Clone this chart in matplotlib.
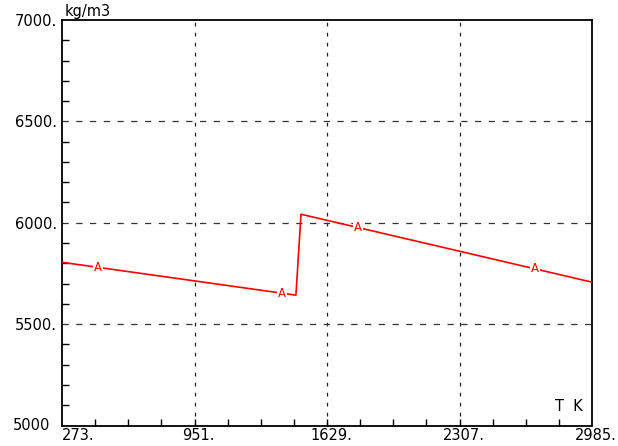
import matplotlib
matplotlib.use("Agg")
import matplotlib.pyplot as plt
import matplotlib.transforms as mtransforms
import numpy as np

# ---- data ----
temperature = [273, 1470, 1496, 2985]          # T (K)
density = [5805, 5643, 6042, 5707]             # kg/m3
marker_T = [457, 1399, 1788, 2693]
marker_rho = [5780, 5653, 5976, 5773]
marker_text = "A"

x_ticks = [273, 951, 1629, 2307, 2985]
x_tick_labels = ["273.", "951.", "1629.", "2307.", "2985."]
y_ticks = [5000, 5500, 6000, 6500, 7000]
y_tick_labels = ["5000", "5500.", "6000.", "6500.", "7000."]
x_unit = "T  K"
y_unit = "kg/m3"

plt.rcParams['font.family'] = ['DejaVu Sans']
fs = 10.5

fig = plt.figure(figsize=(6.18, 4.46), dpi=100)
ax = fig.add_axes([62/618, 20.5/446, 530/618, 405.5/446])
ax.set_xlim(x_ticks[0], x_ticks[-1])
ax.set_ylim(y_ticks[0], y_ticks[-1])

# grid
for xv in x_ticks[1:-1]:
    ax.axvline(xv, color='#222222', lw=0.9, linestyle=(0, (3, 5)), zorder=1)
for yv in y_ticks[1:-1]:
    ax.axhline(yv, color='#333333', lw=0.9, linestyle=(0, (5, 6)), zorder=1)

# data line
ax.plot(temperature, density, color='#ff0000', lw=1.2, zorder=3)
for t, r in zip(marker_T, marker_rho):
    ax.text(t, r, marker_text, color='#ff0000', fontsize=8.5, ha='center', va='center',
            zorder=4, bbox=dict(boxstyle='square,pad=0.05', fc='white', ec='none'))

# ticks
ax.set_xticks([])
ax.set_yticks([])
xstep = (x_ticks[1] - x_ticks[0]) / 4
ax.set_xticks(np.arange(x_ticks[0] + xstep, x_ticks[-1], xstep), minor=True)
ax.set_yticks(np.arange(y_ticks[0] + 100, y_ticks[-1], 100), minor=True)
ax.set_yticks([v for v in np.arange(y_ticks[0] + 100, y_ticks[-1], 100) if v % 500 != 0], minor=True)
ax.tick_params(which='minor', direction='in', length=5, width=1, color='black',
               labelbottom=False, labelleft=False)

for s in ax.spines.values():
    s.set_linewidth(1.3)
    s.set_color('black')

# tick labels
for xv, lab in zip(x_ticks, x_tick_labels):
    if xv == x_ticks[0]:
        off = mtransforms.offset_copy(ax.transData, fig=fig, x=0, y=-2, units='points')
        ax.text(xv, y_ticks[0], lab, ha='left', va='top', fontsize=fs, transform=off, clip_on=False)
    else:
        off = mtransforms.offset_copy(ax.transData, fig=fig, x=3, y=-2, units='points')
        ax.text(xv, y_ticks[0], lab, ha='center', va='top', fontsize=fs, transform=off, clip_on=False)

for yv, lab in zip(y_ticks, y_tick_labels):
    if yv == y_ticks[0]:
        off = mtransforms.offset_copy(ax.transData, fig=fig, x=-8.5, y=0, units='points')
        ax.text(x_ticks[0], yv, lab, ha='right', va='center', fontsize=fs, transform=off, clip_on=False)
    else:
        off = mtransforms.offset_copy(ax.transData, fig=fig, x=-3.5, y=-1, units='points')
        ax.text(x_ticks[0], yv, lab, ha='right', va='center', fontsize=fs, transform=off, clip_on=False)

# unit labels
off = mtransforms.offset_copy(ax.transAxes, fig=fig, x=2, y=1, units='points')
ax.text(0, 1, y_unit, ha='left', va='bottom', fontsize=fs, transform=off, clip_on=False)
off = mtransforms.offset_copy(ax.transAxes, fig=fig, x=-7, y=8, units='points')
ax.text(1, 0, x_unit, ha='right', va='bottom', fontsize=fs, transform=off, clip_on=False)

fig.savefig("out.png", dpi=100)
